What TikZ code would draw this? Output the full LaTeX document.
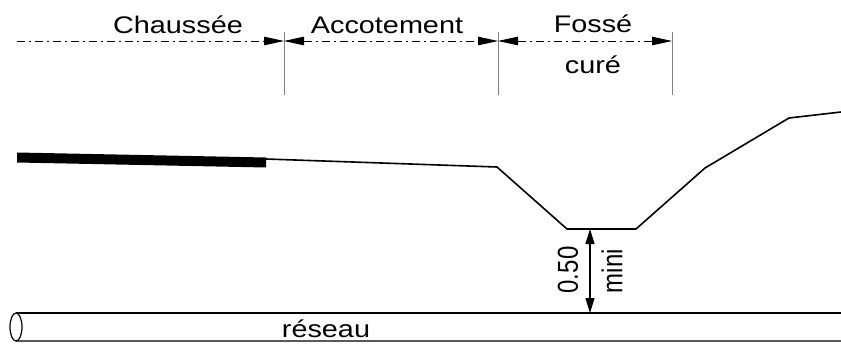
\documentclass[tikz,border=0pt]{standalone}
\usepackage{fontspec}
\setmainfont{Liberation Sans}
\usetikzlibrary{arrows.meta}
\tikzset{
  lbl/.style={inner sep=0pt, anchor=base, font=\fontsize{24}{28}\selectfont, xscale=1.2, transform shape},
  dimline/.style={line width=0.8pt, dash pattern=on 8pt off 4pt on 2pt off 4pt},
  tick/.style={line width=0.8pt, gray},
  tip/.style={>={Triangle[length=20pt, width=8.5pt]}},
  ground/.style={line width=1.6pt, line join=miter}
}
\begin{document}
\begin{tikzpicture}[x=1pt, y=-1pt]
  \useasboundingbox (0,0) rectangle (841,343);
  % dimensions on top
  \coordinate (c0) at (17,41);
  \coordinate (c1) at (284,41);
  \coordinate (c2) at (498,41);
  \coordinate (c3) at (672,41);
  \foreach \i in {1,2,3} {
    \draw[tick] (c\i) ++(0,-9) -- ++(0,63);
  }
  \draw[dimline, tip, ->] (c0) -- (c1);
  \draw[dimline, tip, <->] (c1) -- (c2);
  \draw[dimline, tip, <->] (c2) -- (c3);
  \node[lbl] (chaussee) at (178,33) {Chaussée};
  \node[lbl] (accotement) at (387,33) {Accotement};
  \node[lbl] (fosse) at (593,32) {Fossé};
  \node[lbl] (cure) at (593,73) {curé};
  % road surface and ditch
  \fill (17,152.5) -- (266,157.5) -- (266,167.5) -- (17,162.5) -- cycle;
  \coordinate (g0) at (266,159);
  \coordinate (g1) at (497,167);
  \coordinate (g2) at (567,229);
  \coordinate (g3) at (636,229);
  \coordinate (g4) at (705,168);
  \coordinate (g5) at (789,118);
  \coordinate (g6) at (841,112);
  \draw[ground] (g0) -- (g1) -- (g2) -- (g3) -- (g4) -- (g5) -- (g6);
  % pipe
  \coordinate (p0) at (16,313);
  \coordinate (p1) at (841,313);
  \coordinate (q0) at (16,341);
  \coordinate (q1) at (841,341);
  \draw[line width=1.6pt] (p0) -- (p1);
  \draw[line width=1.2pt, black!65] (q0) -- (q1);
  \draw[line width=1.2pt] (16,327) ellipse [x radius=6, y radius=14];
  \node[lbl] (reseau) at (326,337) {réseau};
  % depth
  \coordinate (d0) at (590,229);
  \coordinate (d1) at (590,313);
  \draw[line width=1.2pt, >={Triangle[length=15pt, width=9pt]}, <->] (d0) -- (d1);
  \node[lbl, rotate=90, anchor=center] (depth) at (568,270) {0.50};
  \node[lbl, rotate=90, anchor=center] (mini) at (612,271) {mini};
\end{tikzpicture}
\end{document}
